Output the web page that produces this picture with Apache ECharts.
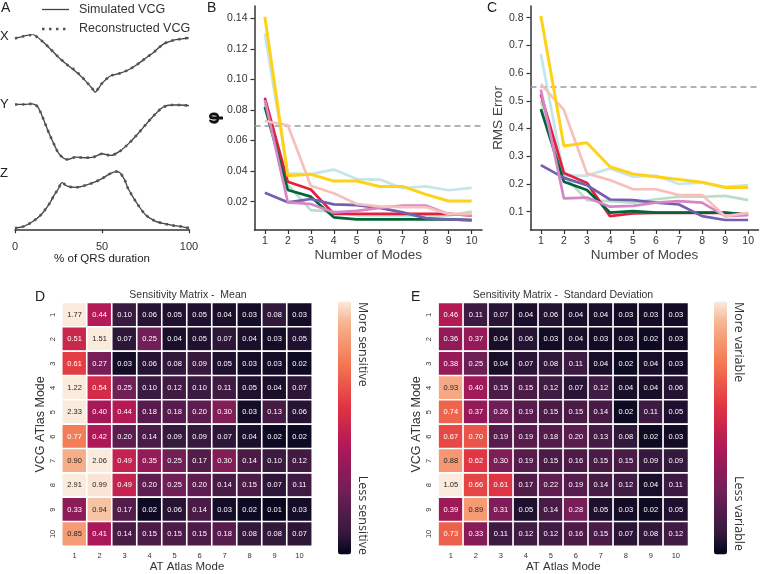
<!DOCTYPE html>
<html><head><meta charset="utf-8">
<script src="https://cdn.jsdelivr.net/npm/echarts@6/dist/echarts.min.js"></script>
<style>html,body{margin:0;padding:0;background:#fff}#c{width:760px;height:574px}</style>
</head><body><div id="c"></div>
<script>
// ---------- Panel A data (% of QRS duration, normalised amplitude) ----------
const pctX = [0,5,10,15,20,25,30,35,40,45,46,50,55,60,65,70,75,80,85,90,95,100];
const simX = [0.94,0.98,1.01,0.91,0.77,0.62,0.49,0.37,0.23,0.06,0.02,0.17,0.30,0.34,0.40,0.49,0.60,0.71,0.84,0.90,0.93,0.95];
const recX = [0.94,0.98,1.00,0.91,0.77,0.62,0.49,0.38,0.23,0.06,0.03,0.17,0.30,0.34,0.40,0.49,0.60,0.71,0.84,0.90,0.93,0.95];
const pctY = [0,5,10,13,15,18,20,23,25,28,30,35,40,45,50,55,60,65,70,75,80,85,90,95,100];
const simY = [0.98,0.98,0.99,0.94,0.82,0.59,0.44,0.24,0.12,0.03,0.01,0.05,0.04,0.05,0.11,0.08,0.15,0.28,0.44,0.62,0.79,0.93,0.97,0.97,0.96];
const recY = [0.98,0.98,0.99,0.94,0.82,0.59,0.44,0.24,0.12,0.03,0.01,0.05,0.04,0.05,0.11,0.08,0.15,0.28,0.44,0.62,0.79,0.93,0.97,0.97,0.96];
const pctZ = [0,5,10,15,20,22,25,27,30,35,40,45,50,55,58,60,63,65,70,75,80,85,90,95,100];
const simZ = [0.02,0.05,0.13,0.25,0.45,0.56,0.70,0.80,0.74,0.72,0.75,0.80,0.87,0.96,0.99,0.98,0.85,0.70,0.45,0.25,0.15,0.10,0.07,0.05,0.02];
const recZ = [0.02,0.05,0.13,0.25,0.45,0.56,0.70,0.80,0.74,0.72,0.75,0.80,0.87,0.96,0.99,0.98,0.85,0.70,0.45,0.25,0.15,0.10,0.07,0.05,0.02];
const pctTicks = [0,50,100];

// ---------- Panels B & C ----------
const modes = [1,2,3,4,5,6,7,8,9,10];
const bYellow = [0.141,0.037,0.038,0.0335,0.0335,0.030,0.030,0.0248,0.0205,0.0205];
const bCyan   = [0.130,0.0385,0.038,0.041,0.0348,0.0345,0.0288,0.030,0.0275,0.029];
const bRed    = [0.088,0.033,0.028,0.012,0.012,0.012,0.012,0.012,0.012,0.011];
const bGreen  = [0.082,0.0277,0.0233,0.0098,0.0085,0.0085,0.0085,0.0085,0.0085,0.008];
const bMint   = [0.084,0.031,0.0145,0.0135,0.011,0.011,0.011,0.011,0.011,0.0135];
const bPurple = [0.0258,0.0196,0.0218,0.0183,0.0178,0.016,0.013,0.0093,0.0085,0.008];
const bPink   = [0.0728,0.070,0.0305,0.0255,0.0185,0.017,0.0165,0.0165,0.012,0.012];
const bOrchid = [0.0865,0.0196,0.0185,0.013,0.014,0.016,0.0175,0.0175,0.012,0.011];
const bThreshold = 0.07;
const bTicks = [0.02,0.04,0.06,0.08,0.10,0.12,0.14];

const cYellow = [0.806,0.337,0.349,0.262,0.236,0.226,0.216,0.206,0.187,0.187];
const cCyan   = [0.669,0.230,0.230,0.256,0.226,0.230,0.200,0.205,0.190,0.196];
const cRed    = [0.523,0.240,0.204,0.084,0.094,0.096,0.096,0.096,0.096,0.090];
const cGreen  = [0.470,0.208,0.178,0.097,0.102,0.097,0.097,0.097,0.097,0.090];
const cMint   = [0.500,0.230,0.142,0.138,0.133,0.145,0.154,0.154,0.157,0.142];
const cPurple = [0.268,0.222,0.196,0.144,0.142,0.133,0.126,0.084,0.070,0.070];
const cPink   = [0.560,0.467,0.238,0.214,0.181,0.181,0.160,0.160,0.084,0.096];
const cOrchid = [0.541,0.148,0.151,0.118,0.121,0.133,0.138,0.133,0.084,0.088];
const cThreshold = 0.55;
const cTicks = [0.1,0.2,0.3,0.4,0.5,0.6,0.7,0.8];

// ---------- Panels D & E (rows: VCG mode 1..10, cols: AT mode 1..10) ----------
const atModes = ['1','2','3','4','5','6','7','8','9','10'];
const vcgModes = ['1','2','3','4','5','6','7','8','9','10'];
const meanMatrix = [
  [1.77,0.44,0.10,0.06,0.05,0.05,0.04,0.03,0.08,0.03],
  [0.51,1.51,0.07,0.25,0.04,0.05,0.07,0.04,0.03,0.05],
  [0.61,0.27,0.03,0.06,0.08,0.09,0.05,0.03,0.03,0.02],
  [1.22,0.54,0.25,0.10,0.12,0.10,0.11,0.05,0.04,0.07],
  [2.33,0.40,0.44,0.18,0.18,0.20,0.30,0.03,0.13,0.06],
  [0.77,0.42,0.20,0.14,0.09,0.09,0.07,0.04,0.02,0.02],
  [0.90,2.06,0.49,0.35,0.25,0.17,0.30,0.14,0.10,0.12],
  [2.91,0.99,0.49,0.20,0.25,0.20,0.14,0.15,0.07,0.11],
  [0.33,0.94,0.17,0.02,0.06,0.14,0.03,0.02,0.01,0.03],
  [0.85,0.41,0.14,0.15,0.15,0.15,0.18,0.08,0.08,0.07]
];
const sdMatrix = [
  [0.46,0.11,0.07,0.04,0.06,0.04,0.04,0.03,0.03,0.03],
  [0.36,0.37,0.04,0.06,0.03,0.04,0.03,0.03,0.02,0.03],
  [0.38,0.25,0.04,0.07,0.08,0.11,0.04,0.02,0.04,0.03],
  [0.93,0.40,0.15,0.15,0.12,0.07,0.12,0.04,0.04,0.06],
  [0.74,0.37,0.26,0.19,0.15,0.15,0.14,0.02,0.11,0.05],
  [0.67,0.70,0.19,0.19,0.18,0.20,0.13,0.08,0.02,0.03],
  [0.88,0.62,0.30,0.19,0.15,0.16,0.15,0.15,0.09,0.09],
  [1.05,0.66,0.61,0.17,0.22,0.19,0.14,0.12,0.04,0.11],
  [0.39,0.89,0.31,0.05,0.14,0.28,0.05,0.03,0.02,0.05],
  [0.73,0.33,0.11,0.12,0.12,0.16,0.15,0.07,0.08,0.12]
];
const meanMax = 1.0, sdMax = 1.05;

// ---------- helpers ----------
const FONT = '"Liberation Sans", Arial, Helvetica, sans-serif';
const rocketStops = [[0,'#03051a'],[0.0833,'#35193e'],[0.25,'#701f57'],[0.4167,'#ad1759'],[0.5833,'#e13342'],[0.75,'#f37651'],[0.9167,'#f6b48f'],[1,'#faebdd']];
function hex2rgb(h){return [parseInt(h.substr(1,2),16),parseInt(h.substr(3,2),16),parseInt(h.substr(5,2),16)];}
function rocket(t){
  t=Math.max(0,Math.min(1,t));
  for(let i=1;i<rocketStops.length;i++){
    if(t<=rocketStops[i][0]){
      const [t0,c0]=rocketStops[i-1],[t1,c1]=rocketStops[i];
      const f=(t-t0)/(t1-t0),a=hex2rgb(c0),b=hex2rgb(c1);
      return a.map((v,k)=>Math.round(v+(b[k]-v)*f));
    }
  }
  return hex2rgb(rocketStops[rocketStops.length-1][1]);
}
function rgbHex(c){return '#'+c.map(v=>v.toString(16).padStart(2,'0')).join('');}
const rocketColors=[];for(let i=0;i<=40;i++)rocketColors.push(rgbHex(rocket(i/40)));
function lum(c){const l=c.map(v=>{v/=255;return v<=0.03928?v/12.92:Math.pow((v+0.055)/1.055,2.4);});return 0.2126*l[0]+0.7152*l[1]+0.0722*l[2];}
function heatData(m,vmax){
  const out=[];
  m.forEach((row,r)=>row.forEach((v,c)=>{
    const col=rocket(Math.min(v,vmax)/vmax);
    out.push({value:[c,r,v,Math.min(v,vmax)],label:{color:lum(col)>0.408?'#262626':'#ffffff'}});
  }));
  return out;
}
const pairs=(xs,ys)=>xs.map((x,i)=>[x,ys[i]]);

// ---------- option ----------
const axisCol='#333';
const grids=[
  {left:15,top:35,width:174,height:58.3},
  {left:15,top:103.3,width:174,height:56.7},
  {left:15,top:171,width:174,height:65},
  {left:254.5,top:6,width:227.5,height:224},
  {left:530.5,top:6,width:228,height:224},
  {left:62,top:302.7,width:250,height:250},
  {left:438.3,top:302.7,width:250,height:250}
];
const hiddenX=i=>({type:'value',gridIndex:i,min:0,max:100,show:false});
const hiddenY=(i,mn)=>({type:'value',gridIndex:i,min:mn,max:1,show:false});
const lineAxisX=(i)=>({type:'value',gridIndex:i,min:0.55,max:10.45,
  axisLine:{lineStyle:{color:axisCol,width:1.5}},
  axisTick:{length:4,lineStyle:{color:axisCol,width:1.2},customValues:modes},
  axisLabel:{color:axisCol,fontSize:10.5,fontFamily:FONT,margin:6,customValues:modes},
  splitLine:{show:false},
  name:'Number of Modes',nameLocation:'middle',nameGap:18,
  nameTextStyle:{color:'#444',fontSize:13.5,fontFamily:FONT}});

const tracesA=[[pctX,simX,recX],[pctY,simY,recY],[pctZ,simZ,recZ]];
const series=[];
tracesA.forEach((t,i)=>{
  series.push({type:'line',xAxisIndex:i,yAxisIndex:i,data:pairs(t[0],t[1]),showSymbol:false,smooth:0.3,
    lineStyle:{color:'#444',width:1.3},silent:true,z:2});
  series.push({type:'line',xAxisIndex:i,yAxisIndex:i,data:pairs(t[0],t[2]),showSymbol:false,smooth:0.3,
    lineStyle:{color:'#555',width:2.6,type:[2.5,4.5],cap:'butt'},silent:true,z:3});
});
const lineColors={cyan:'#c4e6ea',mint:'#b8e0c6',red:'#e3203f',green:'#00653a',purple:'#7560b0',orchid:'#d685c6',pink:'#f7c0bd',yellow:'#ffd21a'};
const bSets=[['cyan',bCyan],['mint',bMint],['red',bRed],['green',bGreen],['purple',bPurple],['orchid',bOrchid],['pink',bPink],['yellow',bYellow]];
const cSets=[['cyan',cCyan],['mint',cMint],['red',cRed],['green',cGreen],['purple',cPurple],['orchid',cOrchid],['pink',cPink],['yellow',cYellow]];
function addLines(sets,ax,thr){
  sets.forEach(([k,arr],j)=>{
    const s={type:'line',xAxisIndex:ax,yAxisIndex:ax,data:pairs(modes,arr),showSymbol:false,
      lineStyle:{color:lineColors[k],width:k==='yellow'?3:2.7},itemStyle:{color:lineColors[k]},silent:true,z:3+j};
    if(j===0){s.markLine={silent:true,symbol:'none',label:{show:false},
      lineStyle:{color:'#999',width:1.6,type:[6,4]},data:[{yAxis:thr}]};}
    series.push(s);
  });
}
addLines(bSets,3,bThreshold);
addLines(cSets,4,cThreshold);
const hmLabel={show:true,fontSize:7.5,fontFamily:FONT,formatter:p=>p.value[2].toFixed(2)};
const idxD=series.length;
series.push({type:'heatmap',xAxisIndex:5,yAxisIndex:5,data:heatData(meanMatrix,meanMax),label:hmLabel,
  itemStyle:{borderColor:'#fff',borderWidth:1.6},emphasis:{disabled:true},silent:true});
const idxE=series.length;
series.push({type:'heatmap',xAxisIndex:6,yAxisIndex:6,data:heatData(sdMatrix,sdMax),label:hmLabel,
  itemStyle:{borderColor:'#fff',borderWidth:1.6},emphasis:{disabled:true},silent:true});

const hmX=i=>({type:'category',gridIndex:i,data:atModes,axisLine:{show:false},axisTick:{show:false},
  axisLabel:{color:axisCol,fontSize:7.5,fontFamily:FONT,margin:6},splitLine:{show:false},
  name:'AT Atlas Mode',nameLocation:'middle',nameGap:14,nameTextStyle:{color:'#333',fontSize:11.5,fontFamily:FONT}});
const hmY=i=>({type:'category',gridIndex:i,data:vcgModes,inverse:true,axisLine:{show:false},axisTick:{show:false},
  axisLabel:{color:axisCol,fontSize:7.5,fontFamily:FONT,margin:5,rotate:90},splitLine:{show:false},
  name:'VCG ATlas Mode',nameLocation:'middle',nameGap:15,nameTextStyle:{color:'#333',fontSize:12.5,fontFamily:FONT}});

const txt=(x,y,s,size,extra)=>Object.assign({type:'text',x:x,y:y,style:Object.assign({text:s,fill:'#222',fontSize:size,fontFamily:FONT},extra||{})});
const option={
  backgroundColor:'#fff',
  animation:false,
  grid:grids,
  xAxis:[hiddenX(0),hiddenX(1),
    {type:'value',gridIndex:2,min:0,max:100,
      axisLine:{lineStyle:{color:axisCol,width:1.5}},
      axisTick:{length:4,lineStyle:{color:axisCol,width:1.2},customValues:pctTicks},
      axisLabel:{color:axisCol,fontSize:11,fontFamily:FONT,margin:5,customValues:pctTicks},
      splitLine:{show:false},name:'% of QRS duration',nameLocation:'middle',nameGap:16,
      nameTextStyle:{color:'#222',fontSize:11.5,fontFamily:FONT}},
    lineAxisX(3),lineAxisX(4),hmX(5),hmX(6)],
  yAxis:[hiddenY(0,0),hiddenY(1,0),hiddenY(2,-0.115),
    {type:'value',gridIndex:3,min:0.0015,max:0.148,
      axisLine:{show:true,lineStyle:{color:axisCol,width:1.5}},
      axisTick:{show:true,length:4,lineStyle:{color:axisCol,width:1.2},customValues:bTicks},
      axisLabel:{color:axisCol,fontSize:10.5,fontFamily:FONT,margin:7,customValues:bTicks,formatter:v=>v.toFixed(2)},
      splitLine:{show:false},name:'φ',nameLocation:'middle',nameGap:30,
      nameTextStyle:{color:'#111',fontSize:17,fontWeight:'bold',fontFamily:'"DejaVu Sans", sans-serif'}},
    {type:'value',gridIndex:4,min:0.034,max:0.842,
      axisLine:{show:true,lineStyle:{color:axisCol,width:1.5}},
      axisTick:{show:true,length:4,lineStyle:{color:axisCol,width:1.2},customValues:cTicks},
      axisLabel:{color:axisCol,fontSize:10.5,fontFamily:FONT,margin:7,customValues:cTicks,formatter:v=>v.toFixed(1)},
      splitLine:{show:false},name:'RMS Error',nameLocation:'middle',nameGap:24,
      nameTextStyle:{color:'#444',fontSize:13.5,fontFamily:FONT}},
    hmY(5),hmY(6)],
  visualMap:[
    {type:'continuous',seriesIndex:idxD,dimension:3,min:0,max:meanMax,inRange:{color:rocketColors},
      left:338,top:301.5,itemWidth:13,itemHeight:253,padding:0,calculable:false,hoverLink:false,text:null,showLabel:false},
    {type:'continuous',seriesIndex:idxE,dimension:3,min:0,max:sdMax,inRange:{color:rocketColors},
      left:714,top:301.5,itemWidth:13,itemHeight:253,padding:0,calculable:false,hoverLink:false,text:null,showLabel:false}
  ],
  graphic:[
    txt(1,1,'A',14),txt(207,1,'B',14),txt(487,1,'C',14),txt(35,290,'D',14),txt(411,290,'E',14),
    txt(0,30,'X',13),txt(0,98,'Y',13),txt(0,167,'Z',13),
    {type:'line',shape:{x1:42,y1:9.5,x2:69,y2:9.5},style:{stroke:'#444',lineWidth:1.3}},
    {type:'line',shape:{x1:42,y1:29,x2:69,y2:29},style:{stroke:'#555',lineWidth:2.6,lineDash:[2.5,4.5]}},
    txt(79,3,'Simulated VCG',12.5,{fill:'#333'}),
    txt(79,22.5,'Reconstructed VCG',12.5,{fill:'#333'}),
    txt(188,295,'Sensitivity Matrix -  Mean',10.5,{fill:'#333',textAlign:'center',textVerticalAlign:'middle'}),
    txt(563,295,'Sensitivity Matrix -  Standard Deviation',10.5,{fill:'#333',textAlign:'center',textVerticalAlign:'middle'}),
    {type:'text',x:362.5,y:302,rotation:-Math.PI/2,style:{text:'More sensitive',fill:'#333',fontSize:12.5,fontFamily:'"Open Sans", sans-serif',textAlign:'left',textVerticalAlign:'middle'}},
    {type:'text',x:362.5,y:555,rotation:-Math.PI/2,style:{text:'Less sensitive',fill:'#333',fontSize:12.5,fontFamily:'"Open Sans", sans-serif',textAlign:'right',textVerticalAlign:'middle'}},
    {type:'text',x:738.5,y:302,rotation:-Math.PI/2,style:{text:'More variable',fill:'#333',fontSize:12.5,fontFamily:'"Open Sans", sans-serif',textAlign:'left',textVerticalAlign:'middle'}},
    {type:'text',x:738.5,y:551,rotation:-Math.PI/2,style:{text:'Less variable',fill:'#333',fontSize:12.5,fontFamily:'"Open Sans", sans-serif',textAlign:'right',textVerticalAlign:'middle'}}
  ],
  series:series
};
const chart=echarts.init(document.getElementById('c'),null,{renderer:'canvas'});
chart.setOption(option);
</script></body></html>
